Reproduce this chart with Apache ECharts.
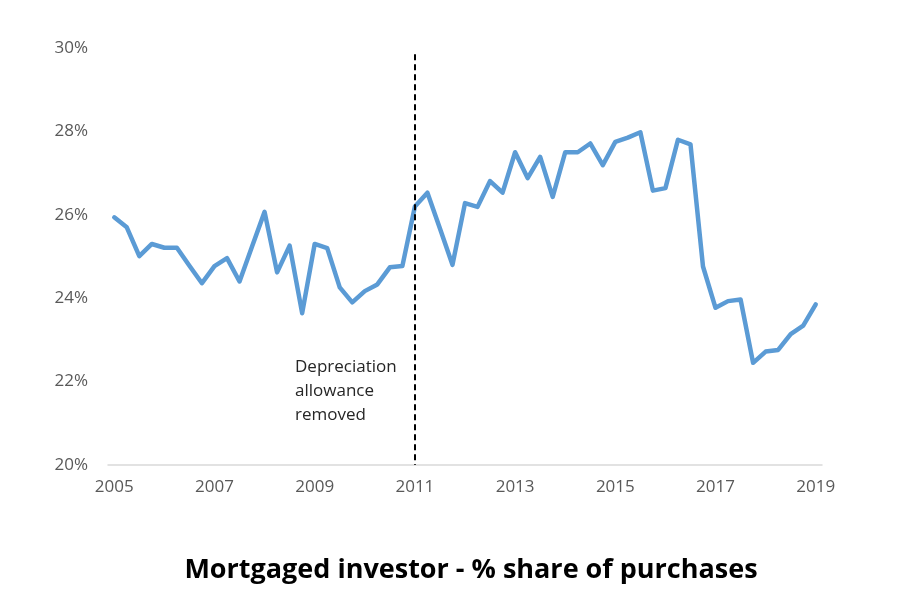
<!DOCTYPE html>
<html>
<head>
<meta charset="utf-8">
<script src="https://cdn.jsdelivr.net/npm/echarts@6/dist/echarts.min.js"></script>
<style>
html,body{margin:0;padding:0;background:#fff;}
#chart{width:900px;height:600px;}
</style>
</head>
<body>
<div id="chart"></div>
<script>
// Quarterly data 2005 Q1 – 2019 Q1
var years = [2005,2006,2007,2008,2009,2010,2011,2012,2013,2014,2015,2016,2017,2018,2019];
var quarters = ['Q1','Q2','Q3','Q4'];
var categories = [];
years.forEach(function (y) {
  quarters.forEach(function (q) {
    if (y < 2019 || q === 'Q1') categories.push(y + ' ' + q);
  });
});
var investorShare = [
  25.94, 25.70, 25.01, 25.30, 25.21, 25.21, 24.78, 24.36,
  24.77, 24.96, 24.40, 25.24, 26.07, 24.62, 25.26, 23.64,
  25.30, 25.20, 24.26, 23.90, 24.17, 24.33, 24.74, 24.77,
  26.20, 26.53, 25.67, 24.80, 26.28, 26.19, 26.81, 26.53,
  27.50, 26.88, 27.39, 26.43, 27.50, 27.50, 27.71, 27.19,
  27.75, 27.85, 27.98, 26.58, 26.64, 27.80, 27.69, 24.76,
  23.77, 23.93, 23.97, 22.45, 22.72, 22.76, 23.14, 23.34,
  23.85
];
var yTicks = [20, 22, 24, 26, 28, 30];
var eventCategory = '2011 Q1';
var eventLabel = ['Depreciation', 'allowance', 'removed'];
var chartTitle = 'Mortgaged investor - % share of purchases';

var chart = echarts.init(document.getElementById('chart'));
var font = '"Open Sans", "Liberation Sans", sans-serif';
chart.setOption({
  animation: false,
  backgroundColor: '#ffffff',
  grid: { left: 108, right: 78, top: 48, bottom: 135, containLabel: false },
  xAxis: {
    type: 'category',
    data: categories,
    boundaryGap: true,
    axisLine: { show: true, lineStyle: { color: '#d9d9d9', width: 1.5 } },
    axisTick: { show: false },
    splitLine: { show: false },
    axisLabel: {
      interval: 7,
      color: '#595959',
      fontFamily: font,
      fontSize: 17,
      margin: 14,
      formatter: function (v) { return v.split(' ')[0]; }
    }
  },
  yAxis: {
    type: 'value',
    min: yTicks[0],
    max: yTicks[yTicks.length - 1],
    interval: 2,
    axisLine: { show: false },
    axisTick: { show: false },
    splitLine: { show: false },
    axisLabel: {
      color: '#595959',
      fontFamily: font,
      fontSize: 17,
      margin: 20,
      formatter: '{value}%'
    }
  },
  series: [{
    type: 'line',
    data: investorShare,
    symbol: 'none',
    smooth: false,
    lineStyle: { color: '#5B9BD5', width: 4.5, join: 'round', cap: 'round' },
    markLine: {
      silent: true,
      symbol: ['none', 'none'],
      label: { show: false },
      lineStyle: { color: '#000000', type: [6, 4], width: 2 },
      data: [[
        { coord: [eventCategory, 29.85] },
        { coord: [eventCategory, 20] }
      ]]
    }
  }],
  graphic: [
    {
      type: 'text',
      left: 295,
      top: 355,
      style: {
        text: eventLabel.join('\n'),
        fill: '#262626',
        font: '17px ' + font,
        lineHeight: 24
      }
    },
    {
      type: 'text',
      x: 471,
      y: 570,
      style: {
        text: chartTitle,
        fill: '#000000',
        font: 'bold 27px ' + font,
        align: 'center',
        verticalAlign: 'middle'
      }
    }
  ]
});
</script>
</body>
</html>
